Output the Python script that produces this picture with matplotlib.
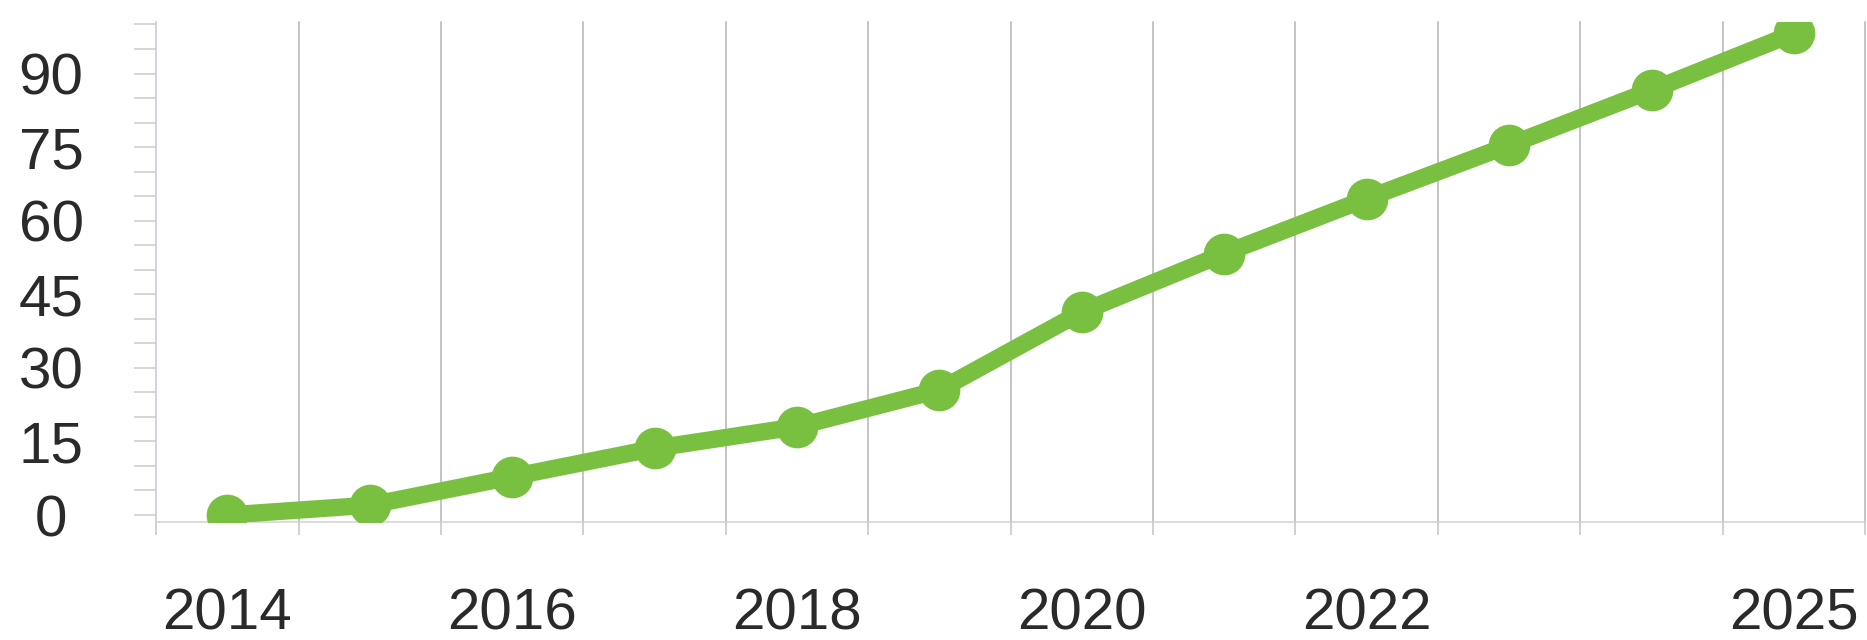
import numpy as np
import matplotlib
matplotlib.use('Agg')
import matplotlib.pyplot as plt

# values
years = ['2014', '2015', '2016', '2017', '2018', '2019',
         '2020', '2021', '2022', '2023', '2024', '2025']
values = [0, 2, 7.8, 13.6, 18, 25.5, 41.4, 53.3, 64.5, 75.4, 86.6, 98.2]
shown_years = ['2014', '2016', '2018', '2020', '2022', '2025']
y_labels = [0, 15, 30, 45, 60, 75, 90]

plt.rcParams['font.family'] = ['Liberation Sans', 'DejaVu Sans']

fig = plt.figure(figsize=(18.67, 6.4), dpi=100)
ax = fig.add_axes([0.0836, 0.1848, 0.9154, 0.7808])

x = np.arange(len(years))
green = '#79c040'
ax.plot(x, values, color=green, lw=12.5, marker='o', ms=29,
        solid_capstyle='round', solid_joinstyle='round', zorder=3)

# vertical grid at the band edges
for b in np.arange(0.5, len(years) + 0.5, 1):
    ax.axvline(b, color='#b4b4b4', lw=1.1, clip_on=False, zorder=1)

ax.set_xlim(-0.5, len(years) - 0.5)
ax.set_ylim(-1.37, 100.5)

for s in ['top', 'right']:
    ax.spines[s].set_visible(False)
ax.spines['left'].set_color('#c8c8d0')
ax.spines['left'].set_linewidth(1.1)
ax.spines['bottom'].set_color('#d2d2d2')
ax.spines['bottom'].set_linewidth(1.1)

# x: tick marks at band edges, labels at band centres
ax.set_xticks(np.arange(-0.5, len(years), 1))
ax.set_xticklabels([])
ax.tick_params(axis='x', which='major', length=9.5, width=1.1, color='#c4c4c4')
ax.set_xticks([years.index(y) for y in shown_years], minor=True)
ax.set_xticklabels(shown_years, minor=True)
ax.tick_params(axis='x', which='minor', length=0, pad=47, labelsize=42,
               labelcolor='#2a2a2a')

# y: short ticks every 5, labels every 15
yt = list(range(0, 101, 5))
ax.set_yticks(yt)
ax.set_yticklabels([str(v) if v in y_labels else '' for v in yt])
ax.tick_params(axis='y', length=15.8, width=1.1, color='#cccccc', pad=59.8,
               labelsize=42, labelcolor='#2a2a2a')
plt.setp(ax.get_yticklabels(), ha='center')

fig.savefig('out.png', dpi=100)
